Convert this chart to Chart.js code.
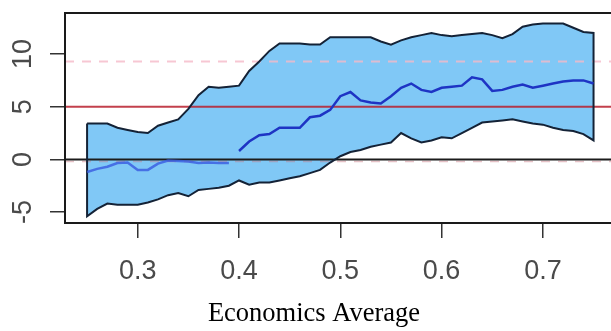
<!DOCTYPE html>
<html>
<head>
<meta charset="utf-8">
<script src="https://cdn.jsdelivr.net/npm/chart.js@4.4.1/dist/chart.umd.min.js"></script>
<style>
  html, body { margin: 0; padding: 0; background: #fff; overflow: hidden; width: 611px; height: 331px; }
  #wrap { position: relative; width: 620px; height: 331px; }
</style>
</head>
<body>
<div id="wrap"><canvas id="c" width="620" height="331"></canvas></div>
<script>
// Economics average (x) grid
const econAvg = [
  0.25, 0.26, 0.27, 0.28, 0.29, 0.30, 0.31, 0.32, 0.33, 0.34,
  0.35, 0.36, 0.37, 0.38, 0.39, 0.40, 0.41, 0.42, 0.43, 0.44,
  0.45, 0.46, 0.47, 0.48, 0.49, 0.50, 0.51, 0.52, 0.53, 0.54,
  0.55, 0.56, 0.57, 0.58, 0.59, 0.60, 0.61, 0.62, 0.63, 0.64,
  0.65, 0.66, 0.67, 0.68, 0.69, 0.70, 0.71, 0.72, 0.73, 0.74, 0.75
];

// Upper confidence bound
const upperBound = [
  3.4, 3.4, 3.4, 3.0, 2.8, 2.6, 2.5, 3.2, 3.5, 3.8,
  4.8, 6.1, 6.9, 6.8, 6.9, 7.0, 8.4, 9.3, 10.3, 11.0,
  11.0, 11.0, 10.9, 10.9, 11.6, 11.6, 11.6, 11.6, 11.6, 11.2,
  10.9, 11.3, 11.6, 11.8, 12.0, 11.8, 11.7, 11.8, 11.9, 12.0,
  11.8, 11.5, 11.9, 12.6, 12.8, 12.9, 12.9, 12.9, 12.5, 12.1, 12.0
];

// Lower confidence bound
const lowerBound = [
  -5.4, -4.7, -4.2, -4.3, -4.3, -4.3, -4.1, -3.8, -3.4, -3.2,
  -3.5, -2.9, -2.8, -2.7, -2.5, -2.0, -2.4, -2.2, -2.2, -2.0,
  -1.8, -1.6, -1.3, -1.0, -0.3, 0.3, 0.7, 0.9, 1.2, 1.4,
  1.6, 2.5, 2.0, 1.6, 1.8, 2.1, 2.0, 2.5, 3.0, 3.5,
  3.6, 3.7, 3.8, 3.6, 3.4, 3.3, 3.0, 2.8, 2.7, 2.4, 1.8
];

// Estimated effect, low range (0.25 - 0.39)
const meanEarly = [
  -1.2, -0.9, -0.7, -0.35, -0.3, -1.0, -1.0, -0.4, -0.1, -0.15,
  -0.2, -0.35, -0.3, -0.35, -0.35
];

// Estimated effect, upper range (0.40 - 0.75)
const meanLate = [
  0.8, 1.7, 2.3, 2.4, 3.0, 3.0, 3.0, 4.0, 4.15, 4.7,
  6.0, 6.4, 5.6, 5.4, 5.3, 6.0, 6.8, 7.2, 6.6, 6.4,
  6.8, 6.9, 7.0, 7.8, 7.6, 6.5, 6.6, 6.9, 7.1, 6.8,
  7.0, 7.2, 7.4, 7.5, 7.5, 7.2
];

// Reference levels
const refRed = 5;
const refZero = 0;
const refDashHigh = 9.3;
const refDashLow = -0.2;

// Axis ticks and ranges
const xTickValues = [0.3, 0.4, 0.5, 0.6, 0.7];
const yTickValues = [-5, 0, 5, 10];
const xRange = [0.2282, 0.7702];
const yRange = [-6.04, 13.9];

const xTitle = 'Economics Average';

// ---- build point lists ----
const pts = (xs, ys) => xs.map((x, i) => ({ x: x, y: ys[i] }));
const upperPts = pts(econAvg, upperBound);
const lowerPts = pts(econAvg, lowerBound);
const earlyPts = pts(econAvg.slice(0, meanEarly.length), meanEarly);
const latePts = pts(econAvg.slice(econAvg.length - meanLate.length), meanLate);
const outlinePts = upperPts.concat(lowerPts.slice().reverse(), [upperPts[0]]);
const hLine = (v) => [{ x: xRange[0], y: v }, { x: xRange[1], y: v }];

const noPts = { pointRadius: 0, pointHoverRadius: 0, tension: 0 };

// Box, rotated y labels and the x caption
const framePlugin = {
  id: 'frame',
  afterDraw(chart) {
    const { ctx, chartArea: a, scales } = chart;
    ctx.save();
    ctx.strokeStyle = '#1a1a1a';
    ctx.lineWidth = 2;
    ctx.strokeRect(a.left, a.top, a.right - a.left, a.bottom - a.top);

    ctx.fillStyle = '#4a4a4a';
    ctx.font = '27px "Liberation Sans", Arial, sans-serif';
    ctx.textAlign = 'center';
    ctx.textBaseline = 'middle';
    yTickValues.forEach(v => {
      const py = scales.y.getPixelForValue(v);
      ctx.save();
      ctx.translate(24, py);
      ctx.rotate(-Math.PI / 2);
      ctx.fillText(String(v), 0, 0);
      ctx.restore();
    });

    ctx.fillStyle = '#000';
    ctx.font = '26.5px "Liberation Serif", "Times New Roman", serif';
    ctx.textAlign = 'center';
    ctx.textBaseline = 'alphabetic';
    ctx.fillText(xTitle, 314, 321);
    ctx.restore();
  }
};

new Chart(document.getElementById('c'), {
  type: 'line',
  data: {
    datasets: [
      { data: upperPts, fill: '+1', backgroundColor: '#80c8f6', borderWidth: 0, order: 10, ...noPts },
      { data: lowerPts, fill: false, borderWidth: 0, order: 10, ...noPts },
      { data: hLine(refRed), borderColor: 'rgba(185,30,45,0.85)', borderWidth: 2, fill: false, order: 8, ...noPts },
      { data: hLine(refZero), borderColor: '#1c1c1c', borderWidth: 2, fill: false, order: 7, ...noPts },
      { data: hLine(refDashHigh), borderColor: 'rgba(245,185,200,0.8)', borderWidth: 2, borderDash: [9, 8], fill: false, order: 6, ...noPts },
      { data: hLine(refDashLow), borderColor: 'rgba(200,120,130,0.45)', borderWidth: 1.5, borderDash: [9, 8], fill: false, order: 9, ...noPts },
      { data: outlinePts, borderColor: '#142236', borderWidth: 2, fill: false, order: 5, ...noPts },
      { data: earlyPts, borderColor: 'rgba(55,90,225,0.8)', borderWidth: 2.5, fill: false, order: 2, ...noPts },
      { data: latePts, borderColor: '#1e34c4', borderWidth: 2.5, fill: false, order: 1, ...noPts }
    ]
  },
  options: {
    responsive: false,
    animation: false,
    events: [],
    layout: { padding: { top: 13, right: 6, bottom: 0, left: 0 } },
    plugins: { legend: { display: false }, tooltip: { enabled: false }, title: { display: false } },
    scales: {
      x: {
        type: 'linear',
        min: xRange[0],
        max: xRange[1],
        afterBuildTicks: (s) => { s.ticks = xTickValues.map(v => ({ value: v })); },
        afterFit: (s) => { s.height = 108; },
        border: { display: false },
        grid: { drawOnChartArea: false, drawTicks: true, tickLength: 15, color: '#333', lineWidth: 1.5 },
        ticks: {
          color: '#4a4a4a',
          font: { family: '"Liberation Sans", Arial, sans-serif', size: 27 },
          padding: 17,
          maxRotation: 0,
          autoSkip: false,
          callback: (v) => String(v)
        }
      },
      y: {
        type: 'linear',
        min: yRange[0],
        max: yRange[1],
        afterBuildTicks: (s) => { s.ticks = yTickValues.map(v => ({ value: v })); },
        afterFit: (s) => { s.width = 65; },
        border: { display: false },
        grid: { drawOnChartArea: false, drawTicks: true, tickLength: 15, color: '#333', lineWidth: 1.5 },
        ticks: { display: false }
      }
    }
  },
  plugins: [framePlugin]
});
</script>
</body>
</html>
